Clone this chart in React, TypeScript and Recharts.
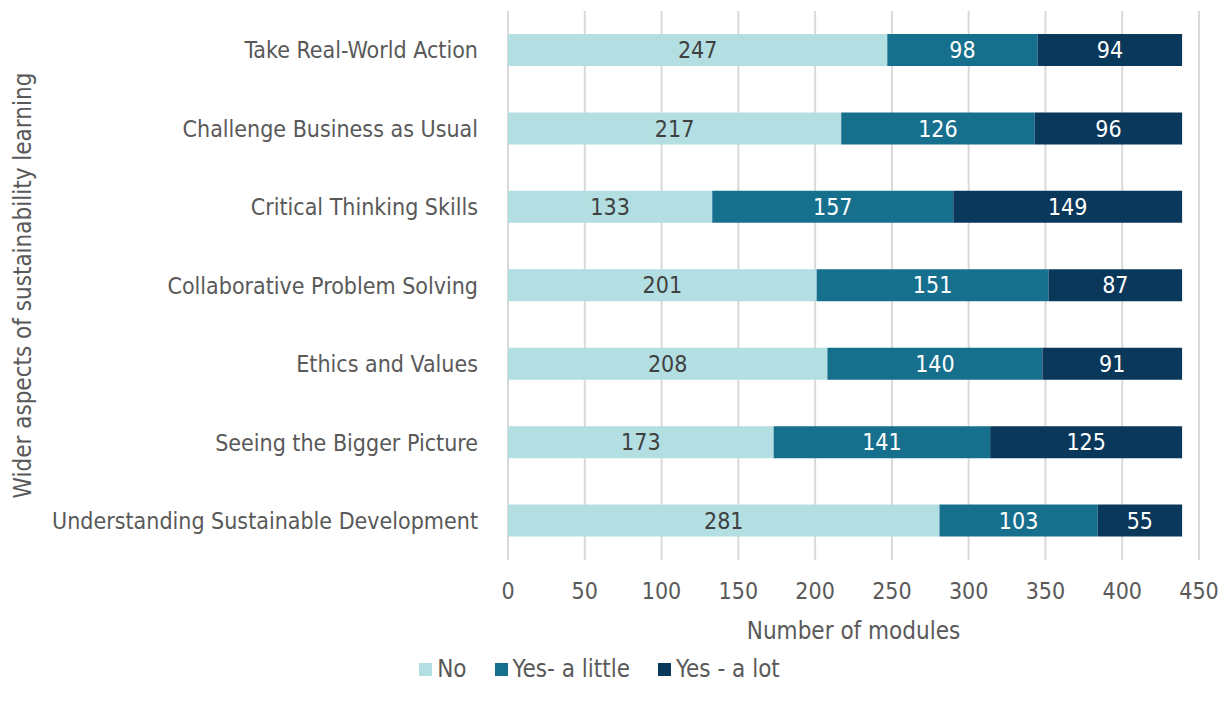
import {
  BarChart,
  Bar,
  XAxis,
  YAxis,
  CartesianGrid,
  Legend,
  LabelList,
} from "recharts";

const categories = [
  "Take Real-World Action",
  "Challenge Business as Usual",
  "Critical Thinking Skills",
  "Collaborative Problem Solving",
  "Ethics and Values",
  "Seeing the Bigger Picture",
  "Understanding Sustainable Development",
];
const noValues = [247, 217, 133, 201, 208, 173, 281];
const littleValues = [98, 126, 157, 151, 140, 141, 103];
const lotValues = [94, 96, 149, 87, 91, 125, 55];
const xTicks = [0, 50, 100, 150, 200, 250, 300, 350, 400, 450];

const seriesNames = ["No", "Yes- a little", "Yes - a lot"];
const COLORS = ["#b3dfe3", "#176f8e", "#0a385b"];

const FONT = "'DejaVu Sans Condensed', 'DejaVu Sans', sans-serif";
const TEXT = "#595959";

const data = categories.map((name, i) => ({
  name,
  no: noValues[i],
  little: littleValues[i],
  lot: lotValues[i],
}));

function LegendContent() {
  return (
    <div
      style={{
        display: "flex",
        justifyContent: "center",
        gap: 28,
        fontFamily: FONT,
        fontStretch: "condensed",
        fontSize: 24,
        color: TEXT,
      }}
    >
      {seriesNames.map((s, i) => (
        <div key={s} style={{ display: "flex", alignItems: "center", gap: 5 }}>
          <span style={{ width: 13, height: 13, background: COLORS[i], display: "inline-block" }} />
          <span>{s}</span>
        </div>
      ))}
    </div>
  );
}

export default function App() {
  const tickStyle = { fill: TEXT, fontSize: 23, fontFamily: FONT, fontStretch: "condensed" };
  return (
    <div style={{ width: 1229, height: 711, background: "#fff" }}>
      <style>{`body{margin:0;}`}</style>
      <BarChart
        width={1229}
        height={711}
        data={data}
        layout="vertical"
        margin={{ top: 11, right: 30, left: 0, bottom: 20 }}
        barSize={32}
      >
        <CartesianGrid horizontal={false} stroke="#d9d9d9" strokeWidth={2} />
        <XAxis
          type="number"
          domain={[0, 450]}
          ticks={xTicks}
          axisLine={false}
          tickLine={false}
          tick={tickStyle}
          tickMargin={17}
          height={95}
          label={{
            value: "Number of modules",
            position: "insideBottom",
            offset: 16,
            style: { fill: TEXT, fontSize: 24, fontFamily: FONT, fontStretch: "condensed" },
          }}
        />
        <YAxis
          type="category"
          dataKey="name"
          width={508}
          axisLine={false}
          tickLine={false}
          tick={tickStyle}
          tickMargin={24}
          interval={0}
          label={{
            value: "Wider aspects of sustainability learning",
            angle: -90,
            position: "insideLeft",
            offset: 22,
            style: {
              textAnchor: "middle",
              fill: TEXT,
              fontSize: 24,
              fontFamily: FONT,
              fontStretch: "condensed",
            },
          }}
        />
        <Legend verticalAlign="bottom" height={36} content={<LegendContent />} />
        <Bar dataKey="no" name={seriesNames[0]} stackId="a" fill={COLORS[0]} isAnimationActive={false}>
          <LabelList dataKey="no" position="center" style={{ ...tickStyle, fill: "#404040" }} />
        </Bar>
        <Bar dataKey="little" name={seriesNames[1]} stackId="a" fill={COLORS[1]} isAnimationActive={false}>
          <LabelList dataKey="little" position="center" style={{ ...tickStyle, fill: "#ffffff" }} />
        </Bar>
        <Bar dataKey="lot" name={seriesNames[2]} stackId="a" fill={COLORS[2]} isAnimationActive={false}>
          <LabelList dataKey="lot" position="center" style={{ ...tickStyle, fill: "#ffffff" }} />
        </Bar>
      </BarChart>
    </div>
  );
}
